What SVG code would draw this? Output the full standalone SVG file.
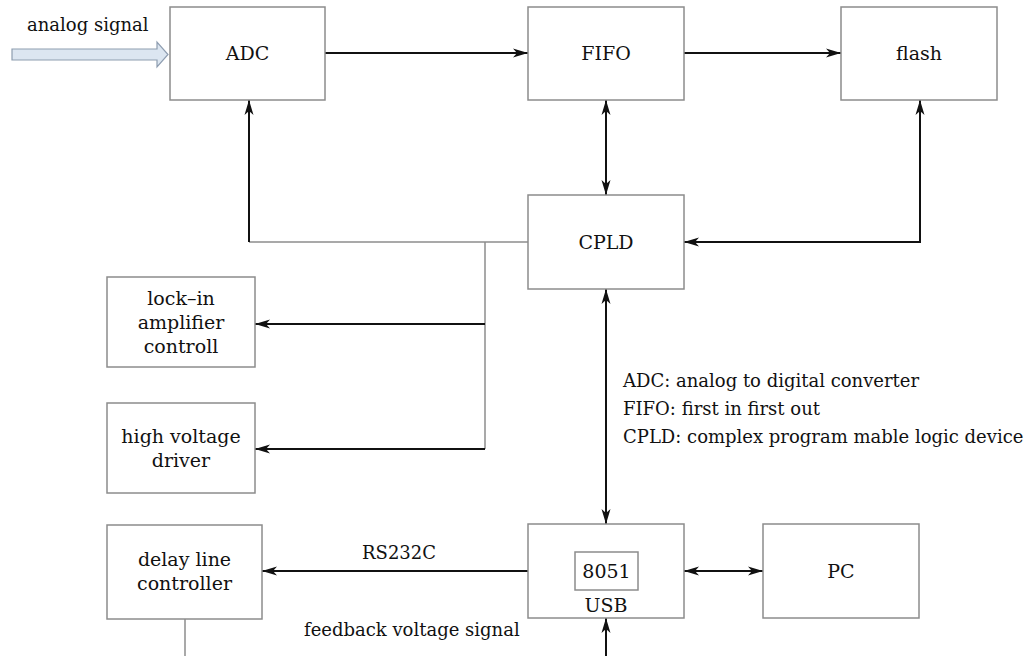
<svg xmlns="http://www.w3.org/2000/svg" width="1032" height="656" viewBox="0 0 1032 656">
  <style>
    .box { fill: #ffffff; stroke: #8c8c8c; stroke-width: 1.5; }
    .lbl { font-family: "DejaVu Serif", "Liberation Serif", serif; font-size: 19px; fill: #111; text-anchor: middle; }
    .leg { font-family: "DejaVu Serif", "Liberation Serif", serif; font-size: 18px; fill: #111; }
    .wire { fill: none; stroke: #111; stroke-width: 2; }
    .grey { fill: none; stroke: #8c8c8c; stroke-width: 1.5; }
    .arr { marker-end: url(#ah); }
    .dbl { marker-start: url(#ah); marker-end: url(#ah); }
  </style>
  <defs>
    <marker id="ah" markerUnits="userSpaceOnUse" markerWidth="16" markerHeight="10" refX="15" refY="5" orient="auto-start-reverse" viewBox="0 0 16 10">
      <path d="M0,0.5 L15,5 L0,9.5 L4,5 z" fill="#111"/>
    </marker>
  </defs>
  <rect width="1032" height="656" fill="#ffffff"/>

  <g id="analog-input">
    <path d="M12,49 H157 V42 L168,54.5 L157,67 V60 H12 z" fill="#dce6f1" stroke="#8e9db0" stroke-width="1.2"/>
    <text class="leg" x="27" y="31">analog signal</text>
  </g>

  <g id="connectors">
    <line class="wire arr" x1="325" y1="53" x2="528" y2="53"/>
    <line class="wire arr" x1="684" y1="53" x2="841" y2="53"/>
    <line class="wire dbl" x1="606" y1="100" x2="606" y2="195"/>
    <path class="wire dbl" d="M920,100 V242 H684"/>
    <line class="grey" x1="528" y1="242" x2="249" y2="242"/>
    <line class="wire arr" x1="249" y1="242" x2="249" y2="100"/>
    <line class="grey" x1="485" y1="242" x2="485" y2="449"/>
    <line class="wire arr" x1="485" y1="324" x2="255" y2="324"/>
    <line class="wire arr" x1="485" y1="449" x2="255" y2="449"/>
    <line class="wire dbl" x1="606" y1="289" x2="606" y2="524"/>
    <line class="wire arr" x1="528" y1="571" x2="262" y2="571"/>
    <line class="wire dbl" x1="684" y1="571" x2="763" y2="571"/>
    <line class="grey" x1="185" y1="619" x2="185" y2="656"/>
    <line class="wire arr" x1="606" y1="656" x2="606" y2="618"/>
    <text class="leg" x="304" y="636">feedback voltage signal</text>
    <text class="leg" x="362" y="559">RS232C</text>
  </g>

  <g id="adc">
    <rect class="box" x="170" y="7" width="155" height="93"/>
    <text class="lbl" x="247.5" y="60">ADC</text>
  </g>
  <g id="fifo">
    <rect class="box" x="528" y="7" width="156" height="93"/>
    <text class="lbl" x="606" y="60">FIFO</text>
  </g>
  <g id="flash">
    <rect class="box" x="841" y="7" width="156" height="93"/>
    <text class="lbl" x="919" y="60">flash</text>
  </g>
  <g id="cpld">
    <rect class="box" x="528" y="195" width="156" height="94"/>
    <text class="lbl" x="606" y="249">CPLD</text>
  </g>
  <g id="lockin">
    <rect class="box" x="107" y="277" width="148" height="90"/>
    <text class="lbl" x="181" y="305">lock–in</text>
    <text class="lbl" x="181" y="329">amplifier</text>
    <text class="lbl" x="181" y="353">controll</text>
  </g>
  <g id="hvdriver">
    <rect class="box" x="107" y="403" width="148" height="90"/>
    <text class="lbl" x="181" y="443">high voltage</text>
    <text class="lbl" x="181" y="467">driver</text>
  </g>
  <g id="delay">
    <rect class="box" x="107" y="525" width="155" height="94"/>
    <text class="lbl" x="184.5" y="566">delay line</text>
    <text class="lbl" x="184.5" y="590">controller</text>
  </g>
  <g id="usb">
    <rect class="box" x="528" y="524" width="156" height="94"/>
    <rect class="box" x="575" y="552" width="63" height="38"/>
    <text class="lbl" x="606.5" y="578">8051</text>
    <text class="lbl" x="606" y="612">USB</text>
  </g>
  <g id="pc">
    <rect class="box" x="763" y="524" width="156" height="94"/>
    <text class="lbl" x="841" y="578">PC</text>
  </g>

  <g id="legend">
    <text class="leg" x="623" y="387">ADC: analog to digital converter</text>
    <text class="leg" x="623" y="415">FIFO: first in first out</text>
    <text class="leg" x="623" y="443">CPLD: complex program mable logic device</text>
  </g>
</svg>
